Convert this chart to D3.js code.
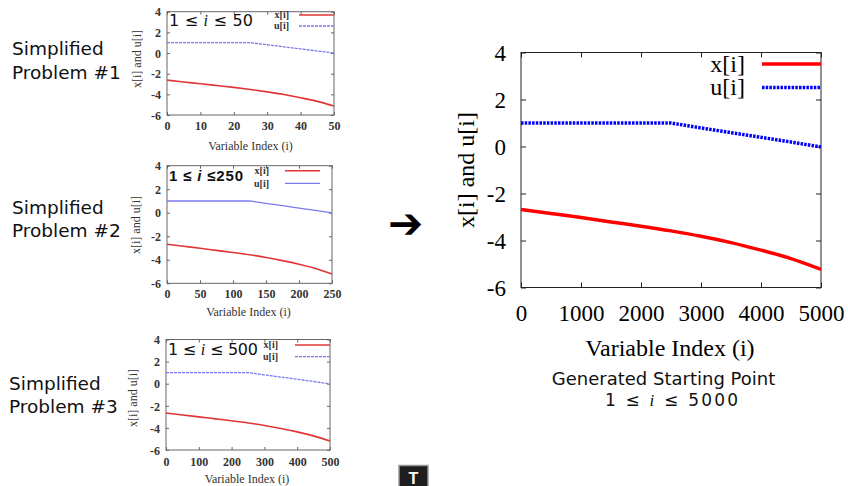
<!DOCTYPE html>
<html>
<head>
<meta charset="utf-8">
<script src="https://cdn.jsdelivr.net/npm/d3@7"></script>
<style>
  html, body { margin: 0; padding: 0; background: #fff; }
  svg { display: block; }
</style>
</head>
<body>
<svg id="chart" width="848" height="486"></svg>
<script>
// ---------- DATA ----------
const yTicks = [4, 2, 0, -2, -4, -6];

// Main chart (1 <= i <= 5000)
const mainIndex = [0, 500, 1000, 1500, 2000, 2500, 3000, 3500, 4000, 4500, 5000];
const mainX     = [-2.68, -2.85, -3.02, -3.21, -3.39, -3.59, -3.82, -4.09, -4.41, -4.77, -5.23];
const mainUIndex = [0, 2500, 3000, 3500, 4000, 4500, 5000];
const mainU      = [1.0, 1.0, 0.79, 0.59, 0.39, 0.19, -0.02];
const mainXTicks = [0, 1000, 2000, 3000, 4000, 5000];

// Simplified problem #1 (1 <= i <= 50)
const p1Index = [0, 5, 10, 15, 20, 25, 30, 35, 40, 45, 50];
const p1X     = [-2.62, -2.8, -2.97, -3.15, -3.33, -3.53, -3.76, -4.02, -4.33, -4.68, -5.13];
const p1UIndex = [0, 25, 30, 35, 40, 45, 50];
const p1U      = [1.0, 1.0, 0.8, 0.6, 0.4, 0.2, 0.0];
const p1XTicks = [0, 10, 20, 30, 40, 50];

// Simplified problem #2 (1 <= i <= 250)
const p2Index = [0, 25, 50, 75, 100, 125, 150, 175, 200, 225, 250];
const p2X     = [-2.68, -2.85, -3.02, -3.2, -3.38, -3.57, -3.8, -4.07, -4.38, -4.74, -5.2];
const p2UIndex = [0, 125, 150, 175, 200, 225, 250];
const p2U      = [1.0, 1.0, 0.8, 0.6, 0.4, 0.2, -0.02];
const p2XTicks = [0, 50, 100, 150, 200, 250];

// Simplified problem #3 (1 <= i <= 500)
const p3Index = [0, 50, 100, 150, 200, 250, 300, 350, 400, 450, 500];
const p3X     = [-2.65, -2.83, -3.0, -3.18, -3.36, -3.55, -3.78, -4.05, -4.36, -4.72, -5.18];
const p3UIndex = [0, 250, 300, 350, 400, 450, 500];
const p3U      = [1.0, 1.0, 0.8, 0.6, 0.4, 0.2, -0.02];
const p3XTicks = [0, 100, 200, 300, 400, 500];

const seriesNames = ["x[i]", "u[i]"];
const problemTitles = [["Simplified", "Problem #1"], ["Simplified", "Problem #2"], ["Simplified", "Problem #3"]];
const xAxisTitle = "Variable Index (i)";
const yAxisTitle = "x[i] and u[i]";

// ---------- DRAW ----------
const svg = d3.select("#chart");
const SERIF = "'Liberation Serif', 'Times New Roman', serif";
const SANS = "'DejaVu Sans', Verdana, sans-serif";
const fmt = d => String(d);

function zip(a, b) { return a.map((v, k) => [v, b[k]]); }

function drawPlot(o) {
  const g = svg.append("g");
  const x = d3.scaleLinear().domain(o.xDomain).range([o.left, o.right]);
  const y = d3.scaleLinear().domain([-6, 4]).range([o.bottom, o.top]);

  // frame
  g.append("rect").attr("x", o.left).attr("y", o.top)
    .attr("width", o.right - o.left).attr("height", o.bottom - o.top)
    .attr("fill", "none").attr("stroke", o.frameColor).attr("stroke-width", o.frameW);

  // inward ticks on all four sides using d3 axes
  const tl = o.tick;
  const axB = g.append("g").attr("transform", `translate(0,${o.bottom})`)
    .call(d3.axisBottom(x).tickValues(o.xTicks).tickSize(-tl).tickFormat(fmt).tickPadding(o.xPad));
  const axT = g.append("g").attr("transform", `translate(0,${o.top})`)
    .call(d3.axisTop(x).tickValues(o.xTicks).tickSize(-tl).tickFormat(""));
  const axL = g.append("g").attr("transform", `translate(${o.left},0)`)
    .call(d3.axisLeft(y).tickValues(yTicks).tickSize(-tl).tickFormat(fmt).tickPadding(o.yPad));
  const axR = g.append("g").attr("transform", `translate(${o.right},0)`)
    .call(d3.axisRight(y).tickValues(yTicks).tickSize(-tl).tickFormat(""));
  [axB, axT, axL, axR].forEach(a => {
    a.select(".domain").remove();
    a.selectAll(".tick line").attr("stroke", o.frameColor).attr("stroke-width", o.frameW);
    a.selectAll("text").attr("font-family", SERIF).attr("font-size", o.tickFont)
      .attr("fill", o.textColor).attr("font-weight", o.tickWeight || "normal");
  });
  axB.selectAll("text").attr("dy", null).attr("y", o.xLabelBase - o.bottom);
  axL.selectAll("text").attr("dy", "0.35em");

  // axis titles
  g.append("text").attr("x", (o.left + o.right) / 2 + (o.xTitleDx || 0)).attr("y", o.xTitleBase)
    .attr("text-anchor", "middle").attr("font-family", SERIF).attr("font-size", o.titleFont)
    .attr("fill", o.textColor).text(xAxisTitle);
  g.append("text")
    .attr("transform", `translate(${o.yTitleX},${o.yTitleY}) rotate(-90)`)
    .attr("text-anchor", "middle").attr("font-family", SERIF).attr("font-size", o.titleFont)
    .attr("fill", o.textColor).text(yAxisTitle);

  // lines
  const line = d3.line().x(d => x(d[0])).y(d => y(d[1])).curve(d3.curveMonotoneX);
  const uline = d3.line().x(d => x(d[0])).y(d => y(d[1])).curve(d3.curveLinear);
  g.append("path").datum(zip(o.uIdx, o.uVal)).attr("d", uline)
    .attr("fill", "none").attr("stroke", o.uColor).attr("stroke-width", o.uW)
    .attr("stroke-dasharray", o.uDash || null);
  g.append("path").datum(zip(o.xIdx, o.xVal)).attr("d", line)
    .attr("fill", "none").attr("stroke", o.xColor).attr("stroke-width", o.xW);

  // legend
  o.legend.forEach((L, k) => {
    g.append("text").attr("x", L.tx).attr("y", L.ty).attr("text-anchor", "end")
      .attr("font-family", SERIF).attr("font-size", o.legFont).attr("fill", o.textColor)
      .attr("font-weight", o.legWeight || "normal").text(seriesNames[k]);
    g.append("line").attr("x1", L.x1).attr("x2", L.x2).attr("y1", L.ly).attr("y2", L.ly)
      .attr("stroke", k === 0 ? o.xColor : o.uColor)
      .attr("stroke-width", k === 0 ? o.xW : o.uW)
      .attr("stroke-dasharray", k === 0 ? null : (o.uDash || null));
  });
  return g;
}

function rangeLabel(g, xPos, yPos, upper, size, len, bold) {
  const t = g.append("text").attr("x", xPos).attr("y", yPos)
    .attr("font-family", bold ? "'Liberation Sans', Arial, sans-serif" : SANS)
    .attr("font-size", size).attr("font-weight", bold ? "bold" : "normal").attr("fill", "#111");
  if (len) t.attr("textLength", len).attr("lengthAdjust", "spacing");
  t.append("tspan").text("1 \u2264 ");
  t.append("tspan").attr("font-style", "italic")
    .attr("font-family", bold ? "'Liberation Sans', Arial, sans-serif" : SERIF).text("i");
  t.append("tspan").text(bold ? " \u2264" + upper : " \u2264 " + upper);
}

// --- main chart ---
drawPlot({
  xDomain: [0, 5000], left: 521, right: 821, top: 52.5, bottom: 287.5,
  xTicks: mainXTicks, tick: 5, xPad: 8, yPad: 15, xLabelBase: 321,
  frameColor: "#222", frameW: 1, textColor: "#000",
  tickFont: 23, titleFont: 24, xTitleBase: 356, xTitleDx: -1,
  yTitleX: 474, yTitleY: 170,
  xIdx: mainIndex, xVal: mainX, uIdx: mainUIndex, uVal: mainU,
  xColor: "#ff0000", xW: 3.5, uColor: "#0000ff", uW: 3.5, uDash: "2.5,1.2",
  legFont: 24, legend: [
    { tx: 745, ty: 71.5, x1: 762, x2: 821, ly: 64 },
    { tx: 745, ty: 95, x1: 762, x2: 821, ly: 87.5 }
  ]
});

// --- small charts ---
const small = [
  { xDomain: [0, 50], left: 167, right: 334, top: 11.7, bottom: 115, xTicks: p1XTicks,
    xLabelBase: 130, xTitleBase: 149.5, yTitleX: 141, yTitleY: 59,
    xIdx: p1Index, xVal: p1X, uIdx: p1UIndex, uVal: p1U, uDash: "3,1",
    legend: [ { tx: 289, ty: 18, x1: 299, x2: 334, ly: 15 }, { tx: 289, ty: 29, x1: 299, x2: 334, ly: 26 } ] },
  { xDomain: [0, 250], left: 167, right: 332, top: 165.7, bottom: 283.3, xTicks: p2XTicks,
    xLabelBase: 298.5, xTitleBase: 315.5, yTitleX: 140, yTitleY: 225, xTitleDx: -1,
    xIdx: p2Index, xVal: p2X, uIdx: p2UIndex, uVal: p2U, uDash: null,
    legend: [ { tx: 269, ty: 174, x1: 285, x2: 320, ly: 170.7 }, { tx: 269, ty: 186.5, x1: 285, x2: 320, ly: 183.3 } ] },
  { xDomain: [0, 500], left: 166, right: 330, top: 339.5, bottom: 450, xTicks: p3XTicks,
    xLabelBase: 466, xTitleBase: 483, yTitleX: 137, yTitleY: 398, xTitleDx: -1,
    xIdx: p3Index, xVal: p3X, uIdx: p3UIndex, uVal: p3U, uDash: "3,1",
    legend: [ { tx: 278, ty: 348, x1: 295, x2: 330, ly: 345 }, { tx: 278, ty: 360, x1: 295, x2: 330, ly: 356.7 } ] }
];
const smallGroups = small.map(s => drawPlot(Object.assign({
  tick: 3, xPad: 4, yPad: 6, frameColor: "#666", frameW: 1, textColor: "#333",
  tickFont: 12, tickWeight: "bold", titleFont: 12,
  xColor: "#e23535", xW: 1.6, uColor: "#7a7aee", uW: 1.3,
  legFont: 10, legWeight: "bold"
}, s)));

rangeLabel(smallGroups[0], 169, 26, "50", 16, 84, false);
rangeLabel(smallGroups[1], 169, 181, "250", 15, 74, true);
rangeLabel(smallGroups[2], 168, 355, "500", 16, 90, false);

// left titles
const titlePos = [[12, 55, 79], [12, 214, 237], [9, 389.5, 413]];
problemTitles.forEach((t, k) => {
  const [tx, y1, y2] = titlePos[k];
  svg.append("text").attr("x", tx).attr("y", y1).attr("font-family", SANS).attr("font-size", 18.5)
    .attr("fill", "#111").text(t[0]);
  svg.append("text").attr("x", tx).attr("y", y2).attr("font-family", SANS).attr("font-size", 18.5)
    .attr("fill", "#111").text(t[1]);
});

// arrow
svg.append("text").attr("x", 388).attr("y", 238).attr("font-family", SANS)
  .attr("font-size", 42).attr("font-weight", "bold").attr("fill", "#000").text("\u2794");

// caption under main chart
svg.append("text").attr("x", 663.5).attr("y", 385).attr("text-anchor", "middle")
  .attr("font-family", SANS).attr("font-size", 18).attr("fill", "#111").text("Generated Starting Point");
rangeLabel(svg, 605, 406, "5000", 17, 133, false);

// small icon at bottom
svg.append("rect").attr("x", 399).attr("y", 465.5).attr("width", 29).attr("height", 24)
  .attr("fill", "#1e1e1e").attr("stroke", "#999").attr("stroke-width", 1.5);
svg.append("text").attr("x", 413.5).attr("y", 484).attr("text-anchor", "middle")
  .attr("font-family", "'Liberation Sans', Arial, sans-serif").attr("font-weight", "bold")
  .attr("font-size", 16).attr("fill", "#fff").text("T");
</script>
</body>
</html>
